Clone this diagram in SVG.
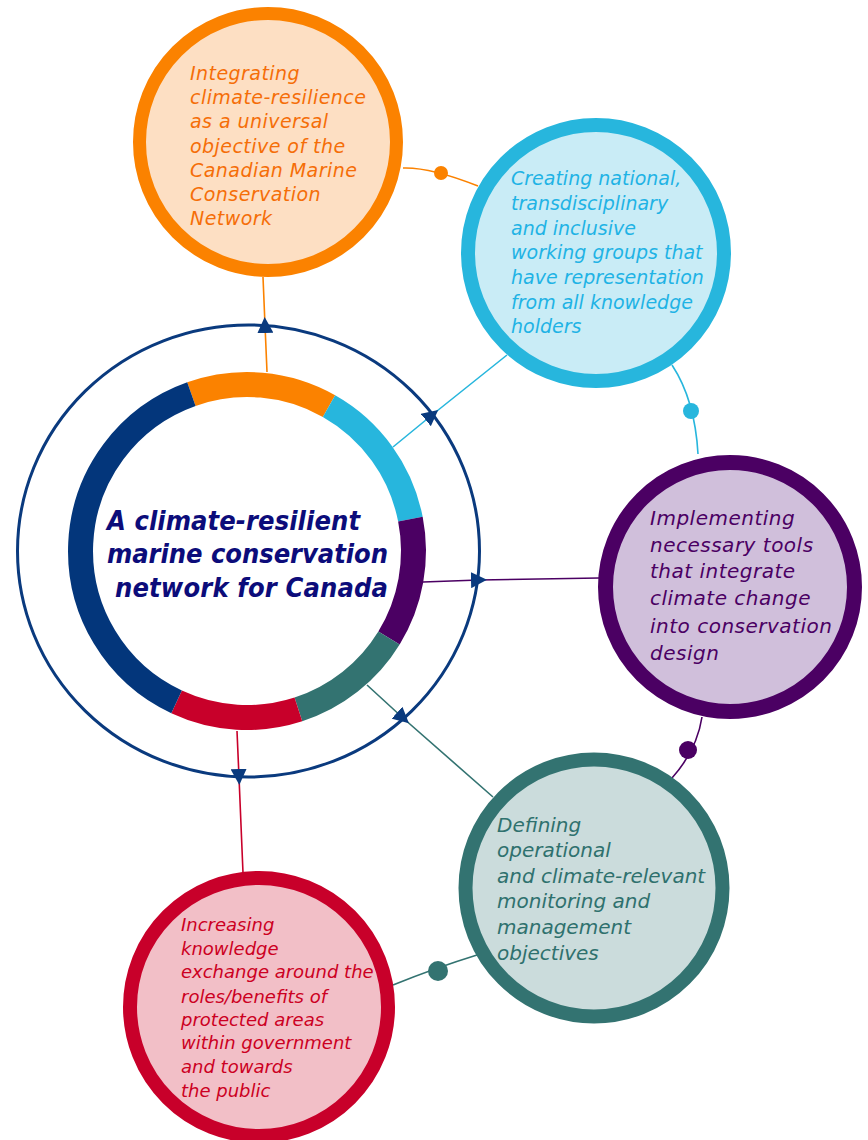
<svg xmlns="http://www.w3.org/2000/svg" width="868" height="1140" viewBox="0 0 868 1140">
<defs>
<marker id="arr" viewBox="0 0 16 16" refX="8" refY="8" markerWidth="16" markerHeight="16" markerUnits="userSpaceOnUse" orient="auto">
<path d="M0,0 L16,8 L0,16 z" fill="#0a3a7e"/>
</marker>
</defs>
<style>
.t{font-family:"DejaVu Sans","Liberation Sans",sans-serif;font-style:italic;font-size:19px}
.seg{fill:none;stroke-width:25}
.c{fill:none;stroke-width:1.6}
</style>
<rect width="868" height="1140" fill="#ffffff"/>
<g id="center">
<ellipse cx="248.5" cy="551" rx="231" ry="226" fill="none" stroke="#0a3a7e" stroke-width="3"/>
<path class="seg" stroke="#fb8200" d="M191.4,394.1 A166.5,166.5 0 0 1 329.0,406.1"/>
<path class="seg" stroke="#27b6dd" d="M329.0,406.1 A166.5,166.5 0 0 1 410.4,519.2"/>
<path class="seg" stroke="#4b0063" d="M410.4,519.2 A166.5,166.5 0 0 1 389.0,638.0"/>
<path class="seg" stroke="#337371" d="M389.0,638.0 A166.5,166.5 0 0 1 298.4,709.4"/>
<path class="seg" stroke="#c8002a" d="M298.4,709.4 A166.5,166.5 0 0 1 176.6,701.9"/>
<path class="seg" stroke="#03367b" d="M176.6,701.9 A166.5,166.5 0 0 1 191.4,394.1"/>
<g font-family="'DejaVu Sans Condensed','DejaVu Sans',sans-serif" font-style="italic" font-weight="bold" font-size="27" fill="#0c0c7a">
<text x="107" y="530" textLength="253">A climate-resilient</text>
<text x="107" y="563" textLength="281">marine conservation</text>
<text x="115" y="597" textLength="273">network for Canada</text>
</g>
</g>
<g id="connectors">
<polyline class="c" stroke="#fb8200" points="267,372 265,325 263,277" marker-mid="url(#arr)"/>
<polyline class="c" stroke="#27b6dd" points="393,447 432,415 507,355" marker-mid="url(#arr)"/>
<polyline class="c" stroke="#4b0063" points="423,582 479,580 599,578" marker-mid="url(#arr)"/>
<polyline class="c" stroke="#337371" points="367,685 403,718 493,797" marker-mid="url(#arr)"/>
<polyline class="c" stroke="#c8002a" points="237,731 239,777 243,873" marker-mid="url(#arr)"/>
<path class="c" stroke="#fb8200" d="M403,168 Q430,167 478,186"/>
<circle cx="441" cy="173" r="7" fill="#fb8200"/>
<path class="c" stroke="#27b6dd" d="M672,365 Q695,400 698,454"/>
<circle cx="691" cy="411" r="8" fill="#27b6dd"/>
<path class="c" stroke="#4b0063" d="M702,717 Q697,750 672,778"/>
<circle cx="688" cy="750" r="9" fill="#4b0063"/>
<path class="c" stroke="#337371" d="M477,955 Q435,968 393,985"/>
<circle cx="438" cy="971" r="10" fill="#337371"/>
</g>
<g id="node-orange">
<circle cx="268" cy="142" r="128.5" fill="#fddfc3" stroke="#fb8200" stroke-width="13"/>
<text class="t" fill="#f56e08" letter-spacing="0.45"><tspan x="190" y="80">Integrating</tspan><tspan x="190" y="104">climate-resilience</tspan><tspan x="190" y="128">as a universal</tspan><tspan x="190" y="153">objective of the</tspan><tspan x="190" y="177">Canadian Marine</tspan><tspan x="190" y="201">Conservation</tspan><tspan x="190" y="225">Network</tspan></text>
</g>
<g id="node-cyan">
<circle cx="596" cy="253" r="128" fill="#c9ecf6" stroke="#27b6dd" stroke-width="14"/>
<text class="t" fill="#1fb3e5"><tspan x="511" y="185">Creating national,</tspan><tspan x="511" y="210">transdisciplinary</tspan><tspan x="511" y="235">and inclusive</tspan><tspan x="511" y="259">working groups that</tspan><tspan x="511" y="284">have representation</tspan><tspan x="511" y="309">from all knowledge</tspan><tspan x="511" y="333">holders</tspan></text>
</g>
<g id="node-purple">
<circle cx="730" cy="587" r="124.5" fill="#d0bfdb" stroke="#4b0063" stroke-width="15"/>
<text class="t" fill="#4b0063" style="font-size:20px" letter-spacing="0.5"><tspan x="650" y="525">Implementing</tspan><tspan x="650" y="552">necessary tools</tspan><tspan x="650" y="578">that integrate</tspan><tspan x="650" y="605">climate change</tspan><tspan x="650" y="633">into conservation</tspan><tspan x="650" y="660">design</tspan></text>
</g>
<g id="node-teal">
<circle cx="594" cy="888" r="128.5" fill="#cbdcdc" stroke="#337371" stroke-width="14"/>
<text class="t" fill="#2f716e" style="font-size:20px"><tspan x="497" y="832">Defining</tspan><tspan x="497" y="857">operational</tspan><tspan x="497" y="883">and climate-relevant</tspan><tspan x="497" y="908">monitoring and</tspan><tspan x="497" y="934">management</tspan><tspan x="497" y="960">objectives</tspan></text>
</g>
<g id="node-red">
<circle cx="259" cy="1007" r="129" fill="#f2bfc7" stroke="#c8002a" stroke-width="14"/>
<text class="t" fill="#cc0022" style="font-size:18px"><tspan x="181" y="931">Increasing</tspan><tspan x="181" y="955">knowledge</tspan><tspan x="181" y="978">exchange around the</tspan><tspan x="181" y="1003">roles/benefits of</tspan><tspan x="181" y="1026">protected areas</tspan><tspan x="181" y="1049">within government</tspan><tspan x="181" y="1073">and towards</tspan><tspan x="181" y="1097">the public</tspan></text>
</g>
</svg>
